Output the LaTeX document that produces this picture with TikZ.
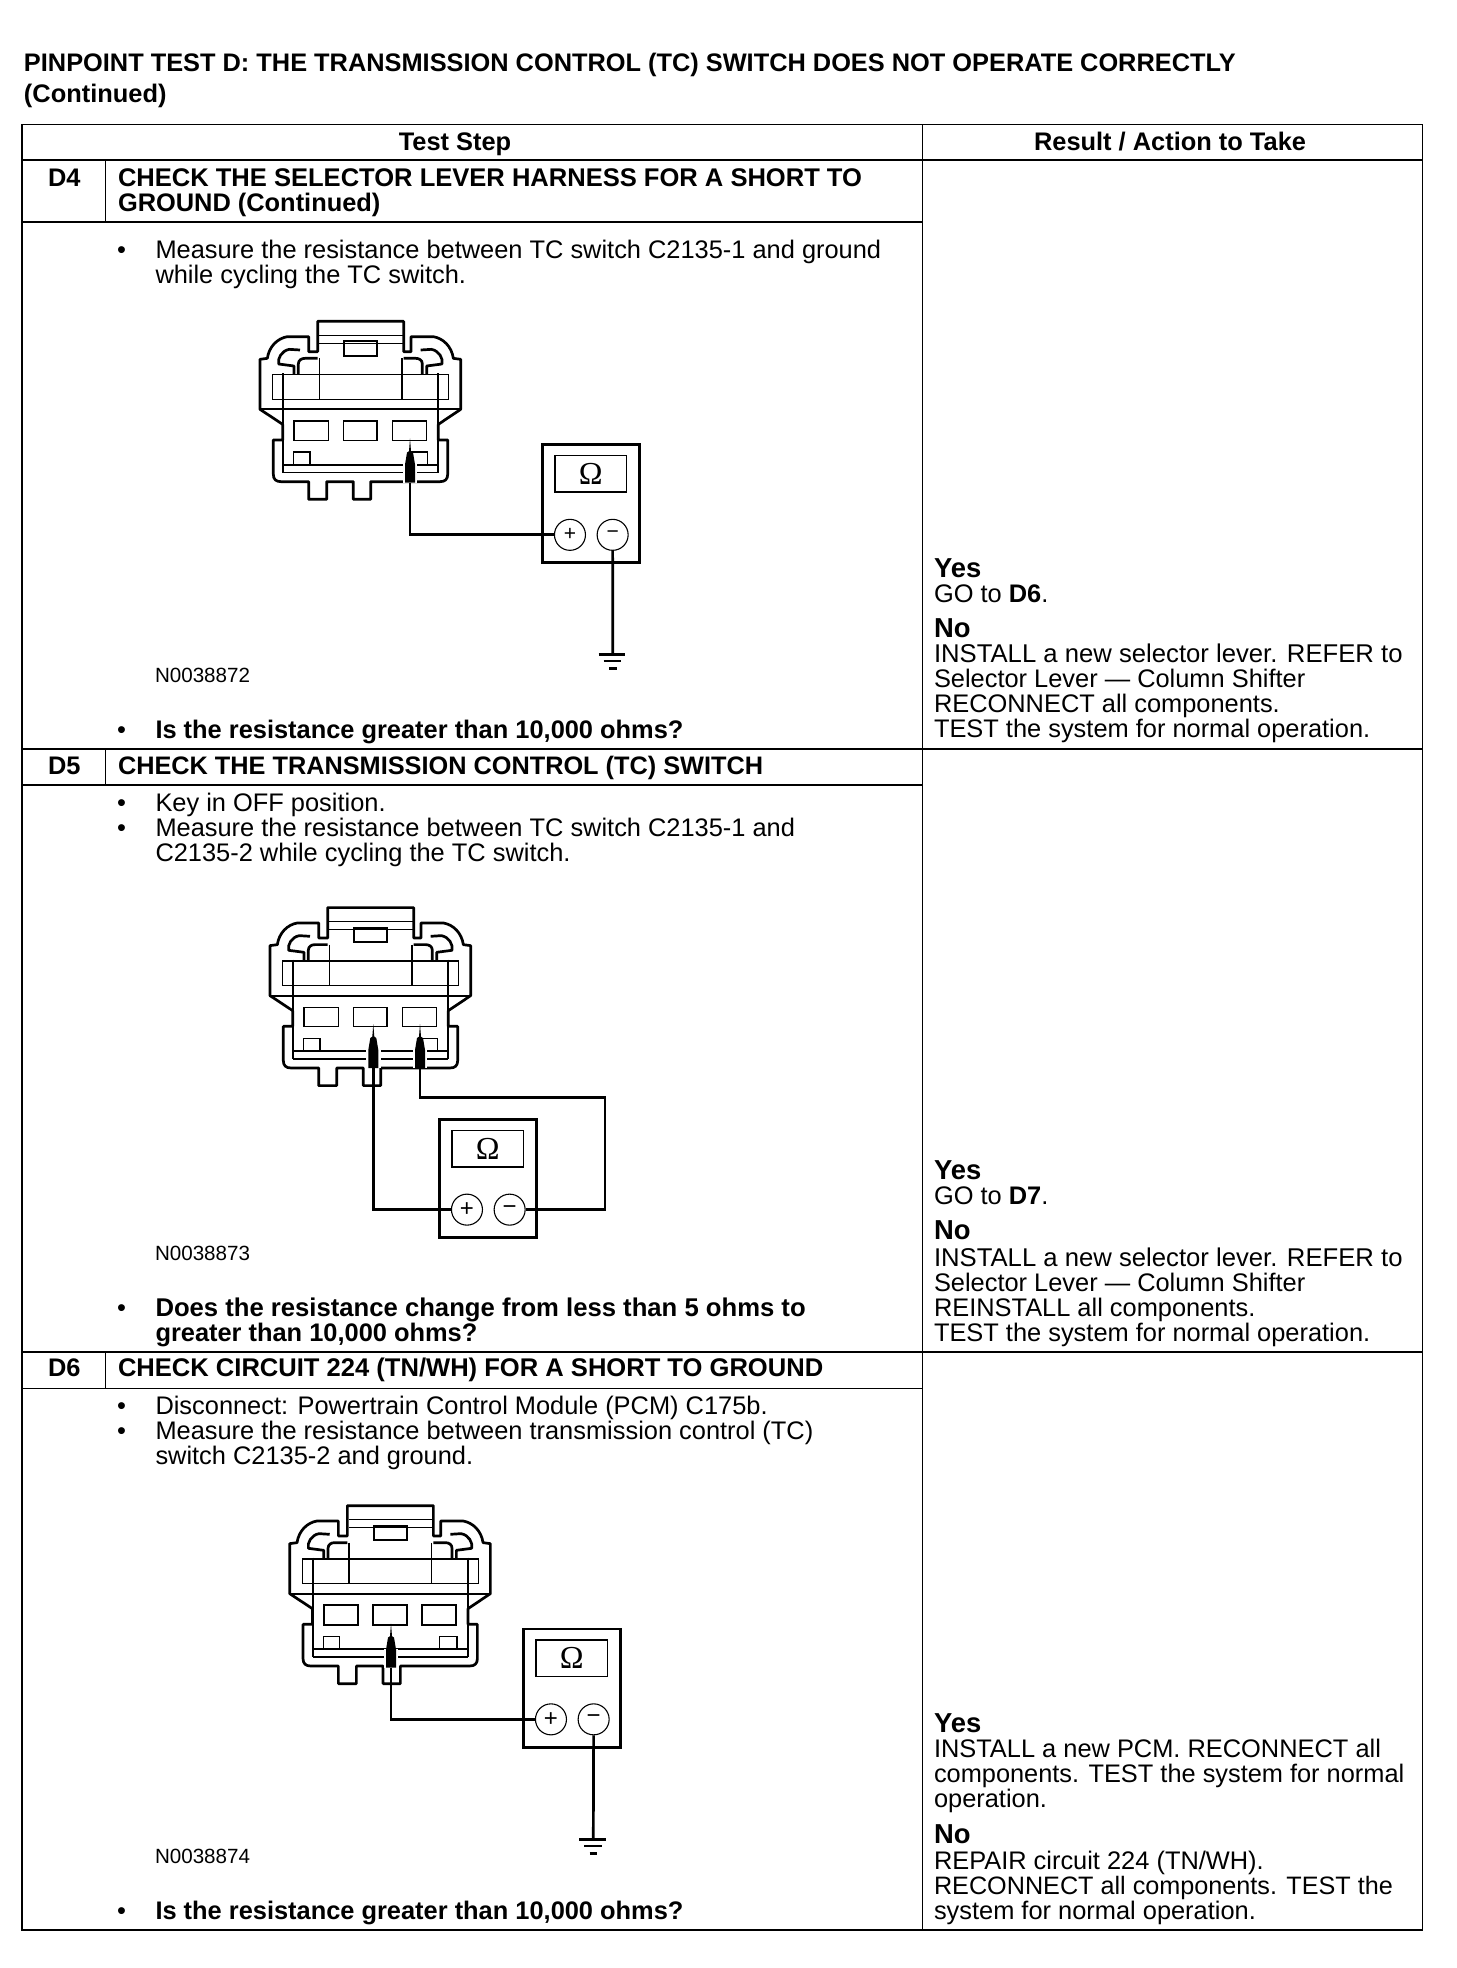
\documentclass[tikz,border=0pt]{standalone}
\usepackage{fontspec}
\setmainfont{Liberation Sans}
\newfontfamily\ohmfont{Liberation Serif}
\newcommand\bodyfs{\fontsize{12.7}{12.7}\selectfont}
\newcommand\boldfs{\fontsize{12.7}{12.7}\selectfont\bfseries}
\newcommand\codefs{\fontsize{10.3}{10.3}\selectfont}
\newcommand\yesfs{\fontsize{13.7}{13.7}\selectfont\bfseries}
\tikzset{
  grid/.style={line width=.8pt,black},
  gridthick/.style={line width=1.1pt,black},
  conthick/.style={line width=1.35pt,line join=round},
  conmid/.style={line width=.95pt},
  conthin/.style={line width=.55pt},
  wire/.style={line width=1.35pt,line join=miter},
  txt/.style={anchor=base west,inner sep=0pt,outer sep=0pt},
  bodytxt/.style={txt,font=\bodyfs},
  boldtxt/.style={txt,font=\boldfs},
  codetxt/.style={txt,font=\codefs},
  yestxt/.style={txt,font=\yesfs},
  widebold/.style={txt,font=\fontsize{12.77}{12.77}\selectfont\bfseries},
  narrowbody/.style={txt,font=\fontsize{12.6}{12.6}\selectfont},
  widebody/.style={txt,font=\fontsize{12.84}{12.84}\selectfont},
  terminalpin/.style={draw,circle,fill=white,minimum size=15.5pt,inner sep=0pt,line width=.55pt},
}
\newcommand\connbody[3]{%
 \begin{scope}[shift={(#1,#2)},x=.16667pt,y=-.16667pt]
  \draw[conthick] (293,94) -- (551,94) -- (551,185) -- (573,185) -- (573,140) -- (640,140)
     .. controls (670,145) and (695,170) .. (700,205) -- (722,208) -- (722,358) -- (655,403) -- (655,450) -- (683,450) -- (683,553)
     .. controls (683,568) and (675,575) .. (660,575) -- (452,575) -- (452,628) -- (400,628) -- (400,575) -- (320,575) -- (320,628) -- (266,628) -- (266,575) -- (183,575)
     .. controls (168,575) and (160,568) .. (160,553) -- (160,450) -- (188,450) -- (188,403) -- (120,358) -- (120,208) -- (142,205)
     .. controls (147,170) and (172,145) .. (202,140) -- (266,140) -- (266,185) -- (293,185) -- cycle;
  \draw[conthick] (240,180) -- (208,178) .. controls (185,182) and (172,205) .. (176,222) -- (222,228) -- (222,252);
  \draw[conthick] (235,252) -- (235,222) .. controls (235,210) and (245,205) .. (255,205) -- (293,205);
  \draw[conthick] (602,180) -- (634,178) .. controls (657,182) and (670,205) .. (666,222) -- (620,228) -- (620,252);
  \draw[conthick] (607,252) -- (607,222) .. controls (607,210) and (597,205) .. (587,205) -- (551,205);
  \draw[conthin] (158,254) rectangle (686,328);
  \draw[conthin] (298,136) -- (548,136) (298,160) -- (548,160);
  \draw[conmid] (372,154) rectangle (472,198);
  \draw[conthin] (298,205) -- (298,328) (546,205) -- (546,328);
  \draw[conmid] (120,358) -- (722,358);
  \draw[conmid] (190,250) -- (190,548) (654,250) -- (654,548);
  \draw[conmid] (190,525) -- (654,525);
  \draw[conthin] (190,548) -- (654,548);
  \draw[conthin] (221,525) -- (221,486) -- (270,486) -- (270,525);
  \draw[conthin] (570,525) -- (570,486) -- (622,486) -- (622,525);
  \draw[line width=#3] (222,393) rectangle (325,451);
  \draw[line width=#3] (371,393) rectangle (471,451);
  \draw[line width=#3] (518,393) rectangle (619,451);
 \end{scope}}
\newcommand\probe[3]{%
 \begin{scope}[shift={(#1,#2)},x=.16667pt,y=-.16667pt]
  \fill[white] (-22,76) rectangle (22,133);
  \fill[black] (0,0) -- (3,38) -- (9,42) -- (15,78) -- (15,132) -- (-15,132) -- (-15,78) -- (-9,42) -- (-3,38) -- cycle;
  \coordinate (#3) at (0,132);
 \end{scope}}
\newcommand\meter[4]{%
 \begin{scope}[shift={(#1,#2)},x=.16667pt,y=-.16667pt]
  \draw[line width=1.35pt] (0,0) rectangle (292,355);
  \node[draw,line width=.7pt,minimum width=35.7pt,minimum height=18.2pt,inner sep=0pt,font=\ohmfont\fontsize{16}{16}\selectfont] (#3disp) at (145,88) {Ω};
  \node[terminalpin,font=\fontsize{#4}{#4}\selectfont] (#3plus) at (83,271) {+};
  \node[terminalpin,font=\fontsize{#4}{#4}\selectfont] (#3minus) at (211,271) {\raisebox{-1pt}{−}};
 \end{scope}}
\newcommand\gnd[3]{%
 \begin{scope}[shift={(#1,#2)},x=.16667pt,y=-.16667pt]
  \coordinate (#3) at (0,0);
  \draw[line width=1.2pt] (-42,0) -- (38,0) (-27,20) -- (25,20) (-11,42) -- (12,42);
 \end{scope}}
\begin{document}
\begin{tikzpicture}[x=.5pt,y=-.5pt]
\useasboundingbox (0,0) rectangle (1456,1968);
\fill[white] (0,0) rectangle (1456,1968);
% table
\draw[grid] (22,124.5) rectangle (1422.5,1930);
\draw[grid] (922.5,124.5) -- (922.5,1930);
\draw[grid] (22,160) -- (1422.5,160);
\draw[grid] (105.5,160) -- (105.5,222);
\draw[gridthick] (22,222) -- (922.5,222);
\draw[gridthick] (22,749.3) -- (1422.5,749.3);
\draw[grid] (22,785) -- (922.5,785);
\draw[grid] (105.5,749.3) -- (105.5,785);
\draw[gridthick] (22,1352) -- (1422.5,1352);
\draw[grid] (22,1388.5) -- (922.5,1388.5);
\draw[grid] (105.5,1352) -- (105.5,1388.5);
% title
\node[boldtxt,font=\fontsize{12.68}{12.68}\selectfont\bfseries] (t1) at (24,71.7) {PINPOINT TEST D: THE TRANSMISSION CONTROL (TC) SWITCH DOES NOT OPERATE CORRECTLY};
\node[boldtxt] (t2) at (24,102.5) {(Continued)};
\node[boldtxt,anchor=base] (h1) at (455,151) {Test Step};
\node[boldtxt,anchor=base] (h2) at (1170,151) {Result / Action to Take};
% D4
\node[boldtxt] (d4) at (48,187) {D4};
\node[widebold] (d4a) at (118,187) {CHECK THE SELECTOR LEVER HARNESS FOR A SHORT TO};
\node[boldtxt] (d4b) at (118,212) {GROUND (Continued)};
\node[bodytxt] (d4c) at (117,259) {•};
\node[bodytxt] (d4d) at (155.5,259) {Measure the resistance between TC switch C2135-1 and ground};
\node[bodytxt] (d4e) at (155.5,284) {while cycling the TC switch.};
\node[codetxt] (d4f) at (155,682) {N0038872};
\node[bodytxt] (d4g) at (117,738.5) {•};
\node[boldtxt] (d4h) at (155.5,738.5) {Is the resistance greater than 10,000 ohms?};
\node[yestxt] (r1) at (934,577.3) {Yes};
\node[bodytxt] (r2) at (934,602.3) {GO to \textbf{D6}.};
\node[yestxt] (r3) at (934,637) {No};
\node[widebody] (r4) at (934,662) {INSTALL a new selector lever. REFER to};
\node[bodytxt] (r5) at (934,687) {Selector Lever — Column Shifter};
\node[bodytxt] (r6) at (934,712) {RECONNECT all components.};
\node[bodytxt] (r7) at (934,737) {TEST the system for normal operation.};
% D5
\node[boldtxt] (d5) at (48,774) {D5};
\node[boldtxt,font=\fontsize{12.65}{12.65}\selectfont\bfseries] (d5a) at (118,774) {CHECK THE TRANSMISSION CONTROL (TC) SWITCH};
\node[bodytxt] (d5b) at (117,811) {•};
\node[bodytxt] (d5c) at (155.5,811) {Key in OFF position.};
\node[bodytxt] (d5d) at (117,836) {•};
\node[bodytxt] (d5e) at (155.5,836) {Measure the resistance between TC switch C2135-1 and};
\node[bodytxt] (d5f) at (155.5,861) {C2135-2 while cycling the TC switch.};
\node[codetxt] (d5g) at (155,1260) {N0038873};
\node[bodytxt] (d5h) at (117,1316.5) {•};
\node[boldtxt,font=\fontsize{12.83}{12.83}\selectfont\bfseries] (d5i) at (155.5,1316.5) {Does the resistance change from less than 5 ohms to};
\node[boldtxt] (d5j) at (155.5,1341.7) {greater than 10,000 ohms?};
\node[yestxt] (s1) at (934,1179) {Yes};
\node[bodytxt] (s2) at (934,1204.5) {GO to \textbf{D7}.};
\node[yestxt] (s3) at (934,1239.5) {No};
\node[widebody] (s4) at (934,1266) {INSTALL a new selector lever. REFER to};
\node[bodytxt] (s5) at (934,1291) {Selector Lever — Column Shifter};
\node[bodytxt] (s6) at (934,1316) {REINSTALL all components.};
\node[bodytxt] (s7) at (934,1341) {TEST the system for normal operation.};
% D6
\node[boldtxt] (d6) at (48,1376) {D6};
\node[boldtxt,font=\fontsize{12.78}{12.78}\selectfont\bfseries] (d6a) at (118,1376) {CHECK CIRCUIT 224 (TN/WH) FOR A SHORT TO GROUND};
\node[bodytxt] (d6b) at (117,1414) {•};
\node[bodytxt] (d6c) at (155.5,1414) {Disconnect: Powertrain Control Module (PCM) C175b.};
\node[bodytxt] (d6d) at (117,1439) {•};
\node[bodytxt] (d6e) at (155.5,1439) {Measure the resistance between transmission control (TC)};
\node[bodytxt] (d6f) at (155.5,1464) {switch C2135-2 and ground.};
\node[codetxt] (d6g) at (155,1863) {N0038874};
\node[bodytxt] (d6h) at (117,1919) {•};
\node[boldtxt] (d6i) at (155.5,1919) {Is the resistance greater than 10,000 ohms?};
\node[yestxt] (u1) at (934,1732) {Yes};
\node[bodytxt] (u2) at (934,1757.5) {INSTALL a new PCM. RECONNECT all};
\node[bodytxt,font=\fontsize{12.68}{12.68}\selectfont] (u3) at (934,1782.5) {components. TEST the system for normal};
\node[bodytxt] (u4) at (934,1807.5) {operation.};
\node[yestxt] (u5) at (934,1843) {No};
\node[bodytxt] (u6) at (934,1869) {REPAIR circuit 224 (TN/WH).};
\node[narrowbody] (u7) at (934,1894) {RECONNECT all components. TEST the};
\node[bodytxt] (u8) at (934,1919) {system for normal operation.};
% D4 diagram
\connbody{220}{290}{.55pt}
\probe{410}{438.5}{pa}
\meter{542.3}{444.5}{ma}{10.5}
\gnd{612.7}{654.3}{ga}
\draw[wire] (pa) |- (maplus.west);
\draw[wire] (maminus.south) -- (ga);
% D5 diagram
\connbody{230}{876.3}{.7pt}
\probe{373.3}{1024}{pb}
\probe{420}{1024}{pc}
\meter{439.3}{1119.3}{mb}{12}
\coordinate (cb) at (605,1097.3);
\draw[wire] (pb) |- (mbplus.west);
\draw[wire] (pc) |- (cb) |- (mbminus.east);
% D6 diagram
\connbody{249.7}{1474.3}{.95pt}
\probe{391}{1623.5}{pd}
\meter{523.3}{1629}{mc}{12}
\gnd{593.3}{1839.3}{gc}
\draw[wire] (pd) |- (mcplus.west);
\draw[wire] (mcminus.south) -- (gc);
\end{tikzpicture}
\end{document}
